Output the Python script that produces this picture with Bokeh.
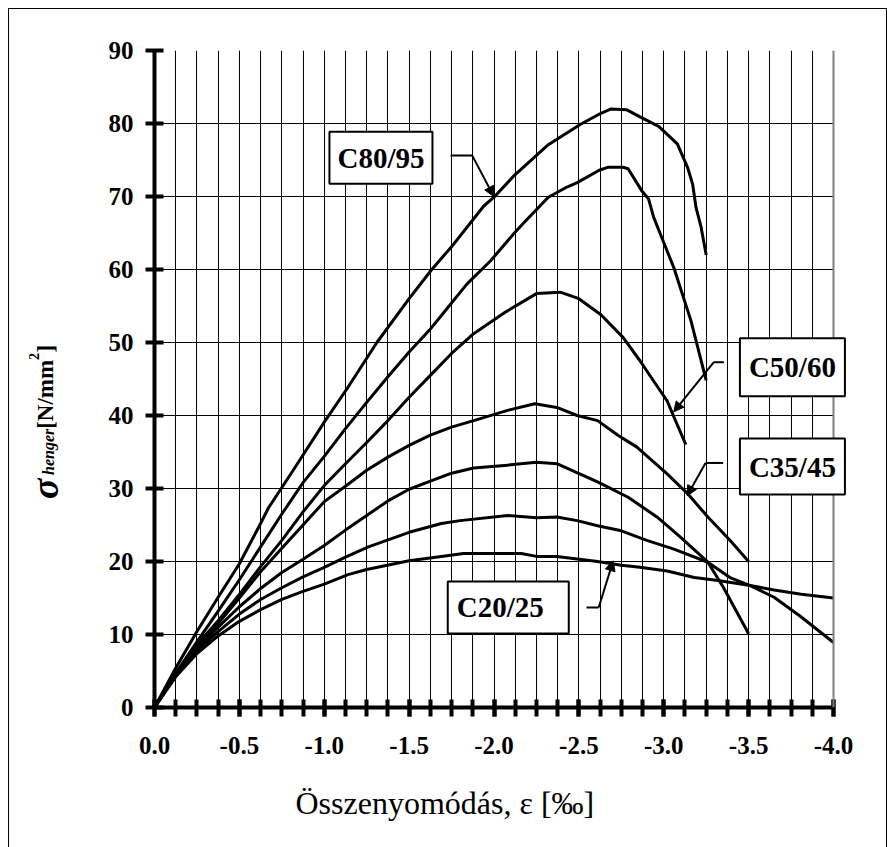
from math import pi
from bokeh.plotting import figure
from bokeh.layouts import row
from bokeh.models import Range1d, FixedTicker, Label, Arrow, NormalHead, Grid, Span, Title
from bokeh.embed import file_html
from bokeh.resources import INLINE

# ---------------- data: strain eps [‰] (compression negative), stress [N/mm²] ----------------
c80_95_eps = [0, -0.125, -0.25, -0.375, -0.5, -0.625, -0.67, -0.82, -1.0, -1.135, -1.31, -1.5, -1.63,
              -1.76, -1.94, -2.0, -2.12, -2.32, -2.51, -2.63, -2.69, -2.78, -2.86, -2.97, -3.08,
              -3.14, -3.17, -3.19, -3.22, -3.25]
c80_95_sig = [0, 5.4, 10.4, 15.1, 19.7, 25.2, 27.3, 32.6, 39.1, 43.7, 50.0, 56.0, 59.9,
              63.4, 68.7, 69.9, 72.9, 77.1, 79.9, 81.4, 82.0, 81.9, 80.9, 79.6, 77.2,
              74.0, 71.7, 68.5, 65.8, 62.0]

s2_eps = [0, -0.125, -0.25, -0.375, -0.5, -0.625, -0.75, -0.875, -1.0, -1.125, -1.25, -1.375, -1.5,
          -1.62, -1.69, -1.84, -1.98, -2.12, -2.18, -2.32, -2.43, -2.49, -2.62, -2.67, -2.76, -2.79,
          -2.87, -2.91, -2.94, -3.06, -3.16, -3.25]
s2_sig = [0, 4.7, 9.0, 13.2, 17.5, 22.0, 26.5, 30.8, 34.4, 38.2, 41.8, 45.3, 48.7,
          51.7, 53.7, 58.0, 61.2, 65.0, 66.5, 69.9, 71.3, 71.9, 73.6, 74.0, 74.0, 73.8,
          70.8, 69.7, 67.2, 60.2, 53.0, 44.8]

c50_60_eps = [0, -0.125, -0.25, -0.375, -0.5, -0.625, -0.75, -0.875, -1.0, -1.125, -1.25, -1.375, -1.5,
              -1.625, -1.75, -1.88, -2.07, -2.25, -2.39, -2.5, -2.63, -2.76, -2.86, -2.97, -3.02,
              -3.06, -3.13]
c50_60_sig = [0, 4.6, 8.6, 11.9, 15.5, 19.3, 22.9, 26.8, 30.4, 33.4, 36.3, 39.3, 42.5,
              45.5, 48.5, 51.2, 54.2, 56.7, 56.9, 56.0, 53.8, 50.7, 47.5, 43.7, 42.0,
              39.8, 36.0]

c35_45_eps = [0, -0.125, -0.25, -0.375, -0.5, -0.625, -0.75, -0.875, -1.0, -1.125, -1.25, -1.375, -1.5,
              -1.625, -1.75, -1.88, -2.08, -2.24, -2.37, -2.49, -2.61, -2.73, -2.84, -3.02, -3.14,
              -3.26, -3.39, -3.5]
c35_45_sig = [0, 4.5, 8.4, 11.5, 15.0, 18.6, 21.8, 25.0, 28.2, 30.3, 32.5, 34.3, 35.9,
              37.3, 38.4, 39.3, 40.7, 41.6, 41.1, 40.0, 39.3, 37.3, 35.7, 32.0, 29.3,
              26.1, 22.9, 20.0]

s5_eps = [0, -0.125, -0.25, -0.375, -0.5, -0.625, -0.75, -0.875, -1.0, -1.125, -1.25, -1.375, -1.5,
          -1.625, -1.75, -1.88, -2.08, -2.25, -2.37, -2.61, -2.79, -2.96, -3.1, -3.26, -3.35, -3.5]
s5_sig = [0, 4.5, 8.1, 11.0, 13.8, 16.3, 18.5, 20.3, 22.2, 24.3, 26.3, 28.3, 29.9,
          31.0, 32.1, 32.8, 33.2, 33.6, 33.4, 30.9, 28.8, 26.1, 23.3, 19.9, 16.5, 10.1]

s6_eps = [0, -0.125, -0.25, -0.375, -0.5, -0.625, -0.75, -0.875, -1.0, -1.125, -1.26, -1.5, -1.69,
          -1.8, -2.08, -2.25, -2.37, -2.49, -2.61, -2.75, -2.9, -3.06, -3.26, -3.39, -3.51,
          -3.65, -3.81, -4.0]
s6_sig = [0, 4.4, 7.8, 10.4, 12.8, 14.8, 16.4, 17.9, 19.2, 20.6, 22.0, 24.0, 25.2,
          25.6, 26.3, 26.0, 26.1, 25.6, 24.9, 24.2, 22.9, 21.7, 19.9, 17.8, 16.7,
          15.1, 12.4, 8.9]

c20_25_eps = [0, -0.125, -0.25, -0.375, -0.5, -0.625, -0.75, -0.875, -1.0, -1.14, -1.25, -1.5, -1.69,
              -1.82, -2.16, -2.25, -2.37, -2.61, -2.75, -2.86, -3.02, -3.18, -3.32, -3.51, -3.65,
              -3.81, -4.0]
c20_25_sig = [0, 4.2, 7.4, 9.8, 11.8, 13.4, 14.8, 15.9, 16.9, 18.2, 18.9, 20.1, 20.7,
              21.1, 21.1, 20.7, 20.7, 20.0, 19.5, 19.2, 18.7, 17.8, 17.4, 16.7, 16.1,
              15.5, 15.0]

series = [(c80_95_eps, c80_95_sig), (s2_eps, s2_sig), (c50_60_eps, c50_60_sig),
          (c35_45_eps, c35_45_sig), (s5_eps, s5_sig), (s6_eps, s6_sig), (c20_25_eps, c20_25_sig)]

x_major_ticks = [0.0, -0.5, -1.0, -1.5, -2.0, -2.5, -3.0, -3.5, -4.0]
x_tick_labels = ["0.0", "-0.5", "-1.0", "-1.5", "-2.0", "-2.5", "-3.0", "-3.5", "-4.0"]
x_minor_ticks = [-0.125 * i for i in range(33)]
y_ticks = [0, 10, 20, 30, 40, 50, 60, 70, 80, 90]

# strength-class labels: text, x, y, padding
class_labels = [
    ("C80/95", -1.334, 75.3, dict(left=8, right=8, top=10, bottom=10)),
    ("C50/60", -3.758, 46.6, dict(left=9, right=9, top=13, bottom=13)),
    ("C35/45", -3.758, 33.0, dict(left=9, right=9, top=12, bottom=12)),
    ("C20/25", -2.084, 13.7, dict(left=9, right=25, top=10, bottom=10)),
]
# leader lines: (start, bend, tip) in data coords
leaders = [
    ((-1.744, 75.6), (-1.872, 75.6), (-1.999, 70.0)),
    ((-3.354, 47.3), (-3.295, 47.3), (-3.059, 40.5)),
    ((-3.35, 33.5), (-3.246, 33.5), (-3.138, 29.0)),
    ((-2.545, 13.7), (-2.617, 13.7), (-2.702, 20.1)),
]

FONT = "Liberation Serif"
GRAY = "#808080"
H = 838
TOP, BOTTOM = 41, 140

# ---------------- main chart ----------------
p = figure(width=807, height=H, x_range=Range1d(0, -4.3122), y_range=Range1d(0, 90),
           output_backend="svg", toolbar_location=None,
           min_border_left=75, min_border_right=0, min_border_top=TOP, min_border_bottom=BOTTOM)
p.background_fill_color = "white"
p.border_fill_color = "white"
p.outline_line_color = None

# axes
p.xaxis.ticker = FixedTicker(ticks=x_major_ticks, minor_ticks=x_minor_ticks)
p.xaxis.major_label_overrides = dict(zip(x_major_ticks, x_tick_labels))
p.xaxis.bounds = (-4, 0)
p.yaxis.ticker = FixedTicker(ticks=y_ticks, minor_ticks=[])
for ax in (p.xaxis[0], p.yaxis[0]):
    ax.axis_line_width = 4
    ax.axis_line_color = "black"
    ax.major_tick_line_width = 4
    ax.major_tick_line_color = "black"
    ax.major_label_text_font = FONT
    ax.major_label_text_font_style = "bold"
    ax.major_label_text_font_size = "25px"
    ax.major_label_text_color = "black"
p.xaxis.major_tick_in = 8
p.xaxis.major_tick_out = 9
p.xaxis.minor_tick_in = 8
p.xaxis.minor_tick_out = 9
p.xaxis.minor_tick_line_width = 4
p.xaxis.minor_tick_line_color = "black"
p.xaxis.major_label_standoff = 20
p.yaxis.major_tick_in = 9
p.yaxis.major_tick_out = 9
p.yaxis.minor_tick_line_color = None
p.yaxis.major_label_standoff = 12

# grid
p.xgrid.ticker = FixedTicker(ticks=x_major_ticks[:-1], minor_ticks=x_minor_ticks[:-1])
p.xgrid.grid_line_color = "black"
p.xgrid.grid_line_width = 1
p.xgrid.minor_grid_line_color = "black"
p.xgrid.minor_grid_line_width = 1
p.ygrid.ticker = FixedTicker(ticks=y_ticks[1:-1])
p.ygrid.grid_line_color = "black"
p.ygrid.grid_line_width = 1
p.add_layout(Grid(dimension=1, ticker=FixedTicker(ticks=[90]),
                  grid_line_color=GRAY, grid_line_width=4))

# white mask for the strip to the right of the plot area (label overhang space)
p.quad(left=[-4.0], right=[-5.0], bottom=[-10], top=[100],
       fill_color="white", line_color=None)

for eps, sig in series:
    p.line(eps, sig, line_width=3, line_color="black", line_join="round")

# right border of plot area
p.add_layout(Span(location=-4.0, dimension="height", line_color=GRAY, line_width=2))

# leader lines with arrows
for (s, b, t) in leaders:
    p.add_layout(Arrow(end=None, x_start=s[0], y_start=s[1], x_end=b[0], y_end=b[1],
                       line_width=2, line_color="black"))
    p.add_layout(Arrow(end=NormalHead(size=10, fill_color="black", line_color="black", line_width=1),
                       x_start=b[0], y_start=b[1], x_end=t[0], y_end=t[1],
                       line_width=2, line_color="black"))

for txt, lx, ly, pad in class_labels:
    p.add_layout(Label(x=lx, y=ly, text=txt,
                       text_align="center", text_baseline="middle",
                       text_font=FONT, text_font_style="bold", text_font_size="29px",
                       text_color="black", background_fill_color="white",
                       border_line_color="black", border_line_width=2, padding=pad))

# x-axis title
p.add_layout(Title(text="Összenyomódás, ε [‰]", align="left", offset=141, standoff=53,
                   text_font=FONT, text_font_size="32px", text_font_style="normal",
                   text_color="black"), "below")

# ---------------- y-axis title panel (coordinates = page pixels) ----------------
yt = figure(width=70, height=H, x_range=Range1d(9, 79), y_range=Range1d(707, 50),
            x_axis_type=None, y_axis_type=None, output_backend="svg", toolbar_location=None,
            min_border_left=0, min_border_right=0, min_border_top=TOP, min_border_bottom=BOTTOM)
yt.outline_line_color = None
yt.background_fill_color = "white"
yt.border_fill_color = "white"
ytitle = [("σ", 44, 498.5, "bold italic", "38px"),
          ("henger", 48, 474.5, "bold italic", "16px"),
          ("[N/mm", 45, 428.3, "bold", "23px"),
          ("2", 33, 359.5, "bold", "14px"),
          ("]", 45, 352.0, "bold", "23px")]
for txt, tx, ty, style, size in ytitle:
    yt.add_layout(Label(x=tx, y=ty, text=txt,
                        angle=pi / 2, text_align="left", text_baseline="middle",
                        text_font=FONT, text_font_style=style,
                        text_font_size=size, text_color="black"))

layout = row(yt, p)
layout.spacing = 0
layout.styles = {"margin-left": "8px", "margin-top": "8px",
                 "border-left": "1px solid #000", "border-top": "1px solid #000",
                 "border-right": "1px solid #000"}

open("out.html", "w").write(file_html(layout, INLINE))
